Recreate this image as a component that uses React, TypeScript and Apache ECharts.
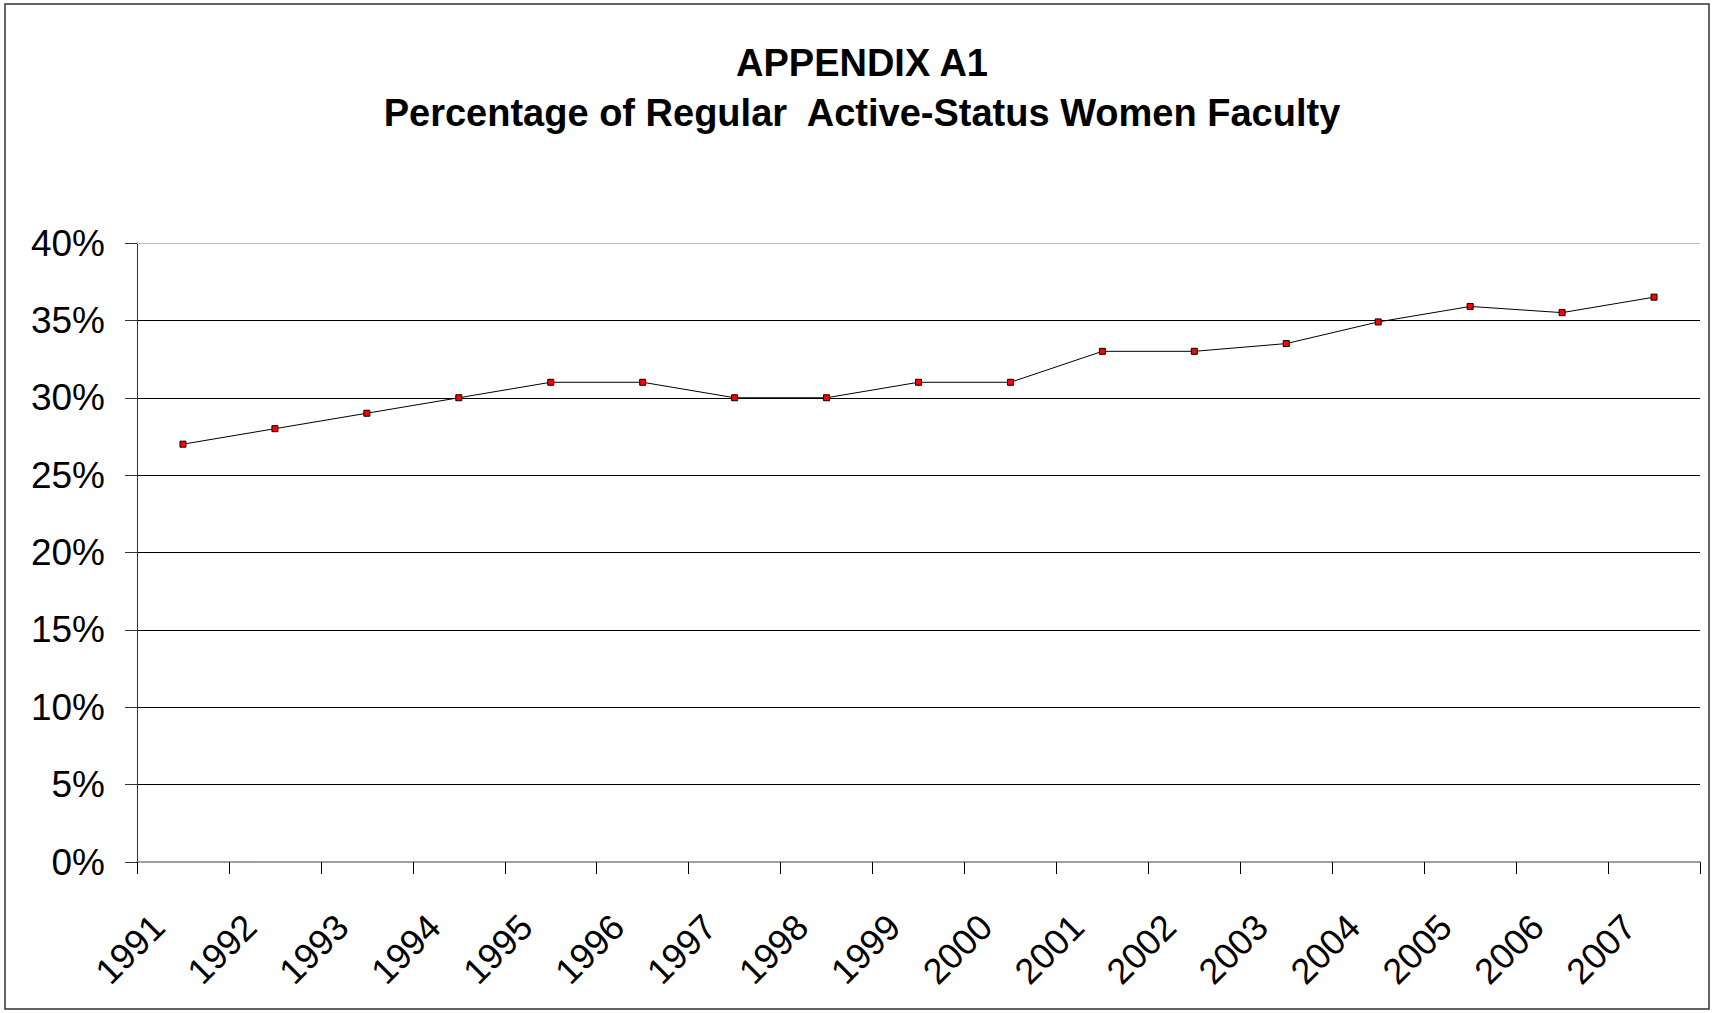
import React, { useEffect, useRef } from "react";
import * as echarts from "echarts";

const titleLines = ["APPENDIX A1", "Percentage of Regular  Active-Status Women Faculty"];
const years = ["1991", "1992", "1993", "1994", "1995", "1996", "1997", "1998", "1999", "2000", "2001", "2002", "2003", "2004", "2005", "2006", "2007"];
const womenPct = [27, 28, 29, 30, 31, 31, 30, 30, 31, 31, 33, 33, 33.5, 34.9, 35.9, 35.5, 36.5];
const yMin = 0;
const yMax = 40;
const yStep = 5;

const FONT = "'Liberation Sans', Arial, sans-serif";

export default function App() {
  const ref = useRef<HTMLDivElement>(null);
  useEffect(() => {
    if (!ref.current) return;
    const chart = echarts.init(ref.current, null, { renderer: "svg" });
    chart.setOption({
      animation: false,
      backgroundColor: "#ffffff",
      title: [
        {
          text: titleLines[0],
          left: 857,
          textAlign: "center",
          top: 36,
          textStyle: { fontFamily: FONT, fontSize: 38, fontWeight: "bold", color: "#000", lineHeight: 44 },
        },
        {
          text: titleLines[1],
          left: 857,
          textAlign: "center",
          top: 86,
          textStyle: { fontFamily: FONT, fontSize: 38, fontWeight: "bold", color: "#000", lineHeight: 44 },
        },
      ],
      graphic: [
        {
          type: "rect",
          shape: { x: 5, y: 4, width: 1704, height: 1005 },
          style: { fill: "none", stroke: "#333", lineWidth: 1.5 },
          silent: true,
        },
      ],
      grid: { left: 137, top: 243, width: 1563, height: 619 },
      xAxis: {
        type: "category",
        data: years,
        boundaryGap: true,
        axisLine: { show: true, lineStyle: { color: "#808080", width: 1.5 } },
        axisTick: { show: true, length: 12, lineStyle: { color: "#000", width: 1 } },
        axisLabel: {
          rotate: 45,
          margin: 34,
          padding: [0, 35, 0, 0],
          fontFamily: FONT,
          fontSize: 36,
          color: "#000",
          interval: 0,
        },
        splitLine: { show: false },
      },
      yAxis: {
        type: "value",
        min: yMin,
        max: yMax,
        interval: yStep,
        axisLine: { show: true, lineStyle: { color: "#333", width: 1 } },
        axisTick: { show: true, length: 12, lineStyle: { color: "#333", width: 1 } },
        axisLabel: {
          formatter: (v: number) => `${v}%`,
          margin: 32,
          fontFamily: FONT,
          fontSize: 37,
          color: "#000",
        },
        splitLine: { show: true, showMaxLine: false, showMinLine: false, lineStyle: { color: "#000", width: 1 } },
      },
      series: [
        {
          type: "line",
          data: womenPct,
          symbol: "rect",
          symbolSize: 6,
          showAllSymbol: true,
          lineStyle: { color: "#000", width: 1 },
          itemStyle: { color: "#ff0000", borderColor: "#000", borderWidth: 1 },
          markLine: {
            silent: true,
            symbol: "none",
            label: { show: false },
            lineStyle: { color: "#c0c0c0", width: 1, type: "solid" },
            data: [{ yAxis: yMax }],
          },
        },
      ],
    });
    return () => chart.dispose();
  }, []);
  return (
    <div
      ref={ref}
      style={{ position: "absolute", left: 0, top: 0, width: 1713, height: 1013 }}
    />
  );
}
